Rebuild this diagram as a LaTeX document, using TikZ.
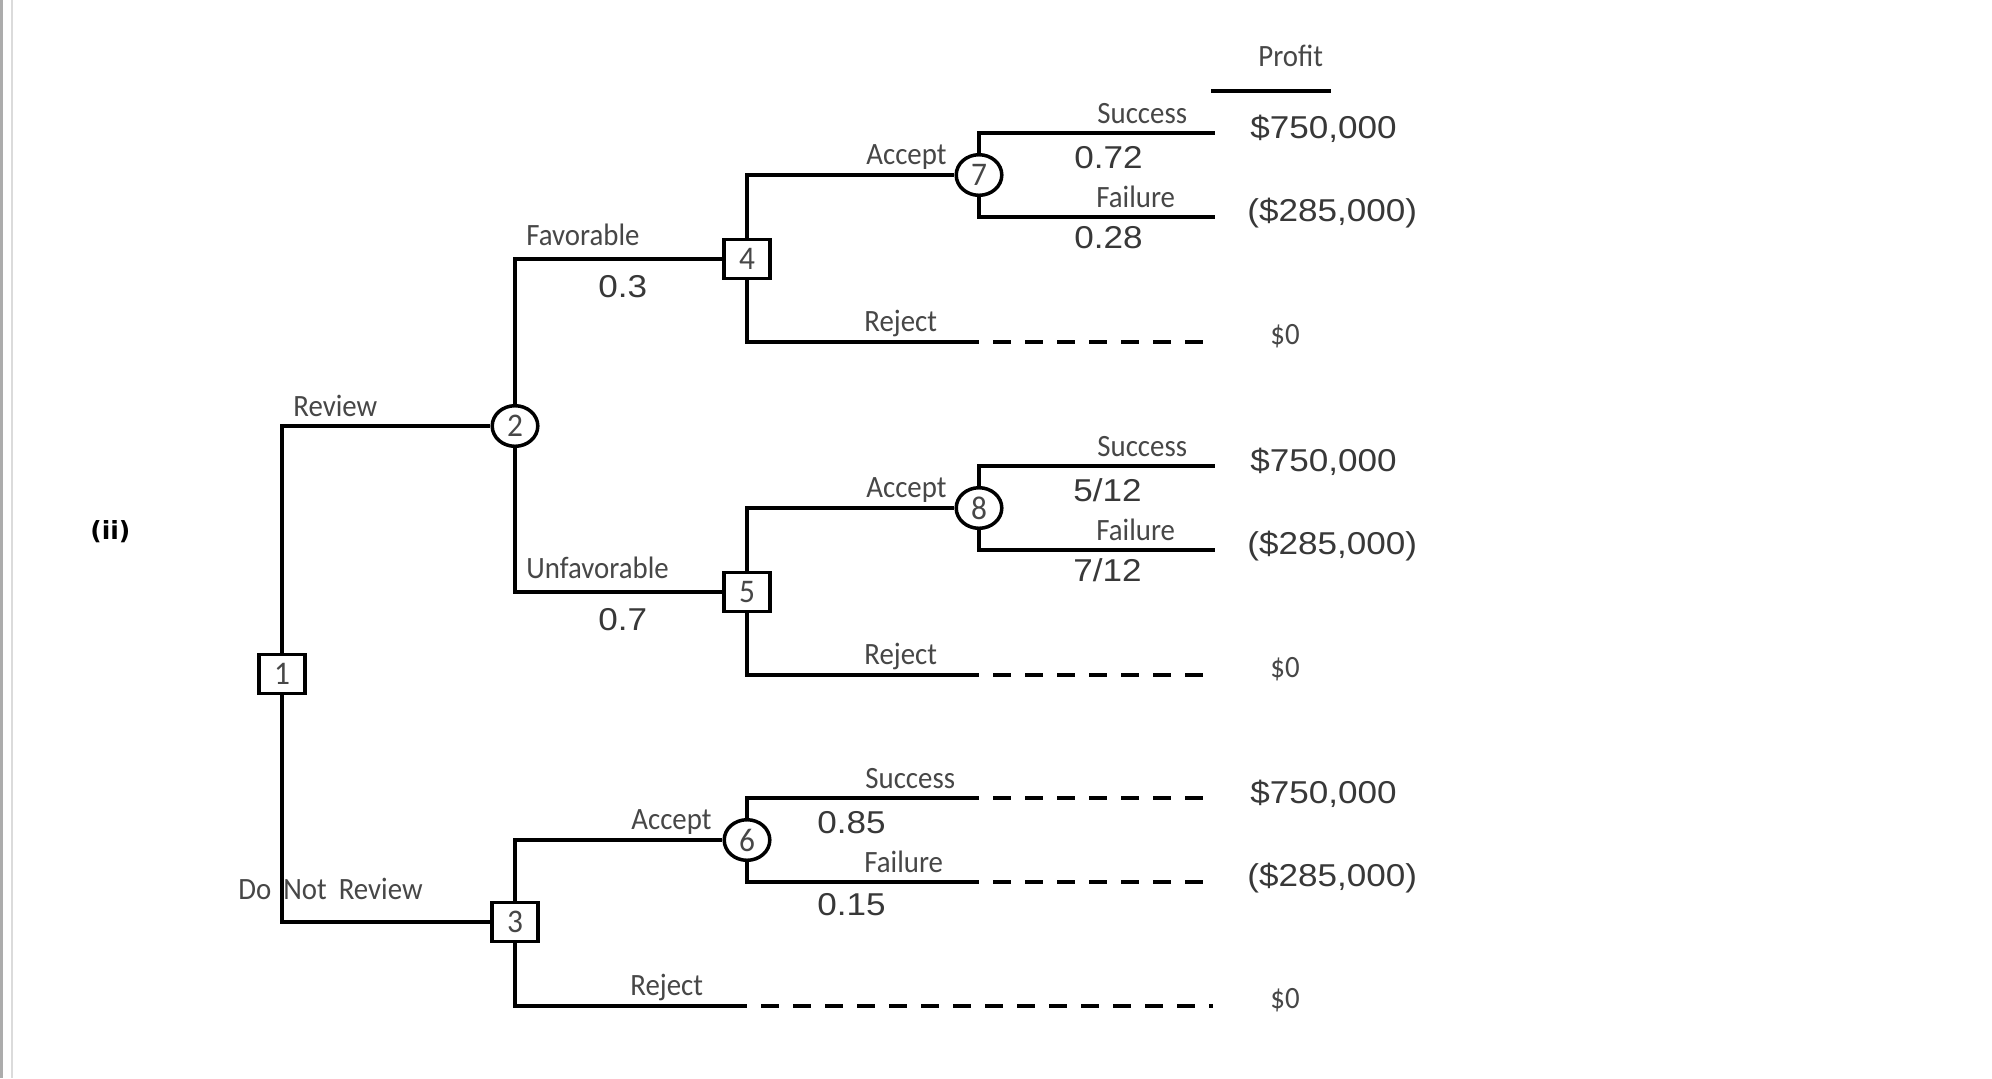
\documentclass[tikz,border=0pt]{standalone}
\usepackage{fontspec}
\setmainfont[FakeStretch=0.93]{Carlito}
\newfontfamily\numfont[FakeStretch=1.11]{Liberation Sans}
\newfontfamily\nodefont[FakeStretch=0.95]{Carlito}
\newfontfamily\tagfont{DejaVu Sans}
\usetikzlibrary{shapes.geometric}
\begin{document}
\begin{tikzpicture}[x=0.5bp,y=-0.5bp,
  edge/.style={line width=1.75bp},
  dashedge/.style={line width=1.75bp, dash pattern=on 9bp off 7bp},
  decbox/.style={draw, line width=1.75bp, rectangle, minimum width=22.8bp, minimum height=19.5bp, inner sep=0pt, fill=white, text=black!72, font=\nodefont\fontsize{16.5bp}{18bp}\selectfont},
  chancebox/.style={draw, line width=1.75bp, ellipse, minimum width=22.8bp, minimum height=20.3bp, inner sep=0pt, fill=white, text=black!72, font=\nodefont\fontsize{16.5bp}{18bp}\selectfont},
  lbl/.style={anchor=base west, inner sep=0pt, text=black!72, font=\fontsize{15.5bp}{18bp}\selectfont},
  num/.style={anchor=base west, inner sep=0pt, text=black!78, font=\numfont\fontsize{15.8bp}{18bp}\selectfont}
]
\useasboundingbox (0,0) rectangle (1992,1078);
\fill[white] (0,0) rectangle (1992,1078);
\fill[gray!65] (0,0) rectangle (3.3,1078);
\fill[gray!28] (10.5,0) rectangle (13,1078);

% nodes
\node[decbox] (n1) at (282,674) {1};
\node[chancebox] (n2) at (515,426) {2};
\node[decbox] (n3) at (515,922) {3};
\node[decbox] (n4) at (747,259) {4};
\node[decbox] (n5) at (747,592) {5};
\node[chancebox] (n6) at (747,840) {6};
\node[chancebox] (n7) at (979,175) {7};
\node[chancebox] (n8) at (979,508) {8};

% leaf coordinates
\coordinate (s7) at (1215,133);
\coordinate (f7) at (1215,217);
\coordinate (s8) at (1215,466);
\coordinate (f8) at (1215,550);
\coordinate (r4a) at (979,342); \coordinate (r4b) at (993,342); \coordinate (r4c) at (1203,342);
\coordinate (r5a) at (979,675); \coordinate (r5b) at (993,675); \coordinate (r5c) at (1203,675);
\coordinate (s6a) at (979,798); \coordinate (s6b) at (993,798); \coordinate (s6c) at (1203,798);
\coordinate (f6a) at (979,882); \coordinate (f6b) at (993,882); \coordinate (f6c) at (1203,882);
\coordinate (r3a) at (747,1006); \coordinate (r3b) at (761,1006); \coordinate (r3c) at (1213,1006);

% connectors
\draw[edge] (n1) |- (n2);
\draw[edge] (n1) |- (n3);
\draw[edge] (n2) |- (n4);
\draw[edge] (n2) |- (n5);
\draw[edge] (n4) |- (n7);
\draw[edge] (n4) |- (r4a);
\draw[edge] (n5) |- (n8);
\draw[edge] (n5) |- (r5a);
\draw[edge] (n3) |- (n6);
\draw[edge] (n3) |- (r3a);
\draw[edge] (n7) |- (s7);
\draw[edge] (n7) |- (f7);
\draw[edge] (n8) |- (s8);
\draw[edge] (n8) |- (f8);
\draw[edge] (n6) |- (s6a);
\draw[edge] (n6) |- (f6a);
\draw[dashedge] (r4b) -- (r4c);
\draw[dashedge] (r5b) -- (r5c);
\draw[dashedge] (s6b) -- (s6c);
\draw[dashedge] (f6b) -- (f6c);
\draw[dashedge] (r3b) -- (r3c);

% profit header
\node[lbl] (profit) at (1258,66) {Profit};
\coordinate (pu1) at (1211,91);
\coordinate (pu2) at (1331,91);
\draw[line width=1.9bp] (pu1) -- (pu2);

% branch labels
\node[lbl] (lrev) at (293,416) {Review};
\node[lbl] (ldnr) at (238,899) {Do\hspace{6bp}Not\hspace{6bp}Review};
\node[lbl] (lfav) at (526,245) {Favorable};
\node[num] (pfav) at (598,297) {0.3};
\node[lbl] (lunf) at (526,578) {Unfavorable};
\node[num] (punf) at (598,630) {0.7};

\node[lbl] (la4) at (866,164) {Accept};
\node[lbl] (lr4) at (864,331) {Reject};
\node[lbl] (ls7) at (1097,123) {Success};
\node[num] (ps7) at (1074,168) {0.72};
\node[lbl] (lf7) at (1096,207) {Failure};
\node[num] (pf7) at (1074,248) {0.28};

\node[lbl] (la5) at (866,497) {Accept};
\node[lbl] (lr5) at (864,664) {Reject};
\node[lbl] (ls8) at (1097,456) {Success};
\node[num] (ps8) at (1073,501) {5/12};
\node[lbl] (lf8) at (1096,540) {Failure};
\node[num] (pf8) at (1073,581) {7/12};

\node[lbl] (la3) at (631,829) {Accept};
\node[lbl] (lr3) at (630,995) {Reject};
\node[lbl] (ls6) at (865,788) {Success};
\node[num] (ps6) at (817,833) {0.85};
\node[lbl] (lf6) at (864,872) {Failure};
\node[num] (pf6) at (817,915) {0.15};

% payoffs
\node[num] (v1) at (1250,138) {\$750,000};
\node[num] (v2) at (1247,221) {(\$285,000)};
\node[lbl] (v3) at (1270,344) {\$0};
\node[num] (v4) at (1250,471) {\$750,000};
\node[num] (v5) at (1247,554) {(\$285,000)};
\node[lbl] (v6) at (1270,677) {\$0};
\node[num] (v7) at (1250,803) {\$750,000};
\node[num] (v8) at (1247,886) {(\$285,000)};
\node[lbl] (v9) at (1270,1008) {\$0};

% tag
\node[anchor=base west, inner sep=0pt, font=\tagfont\bfseries\fontsize{12.5bp}{15bp}\selectfont] (tag) at (90,539) {(ii)};
\end{tikzpicture}
\end{document}
